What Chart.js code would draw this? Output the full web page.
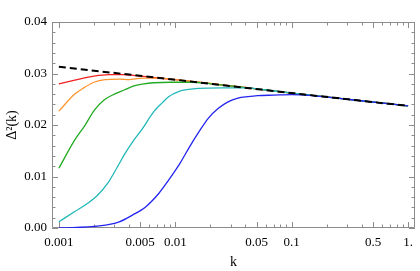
<!DOCTYPE html>
<html>
<head>
<meta charset="utf-8">
<script src="https://cdn.jsdelivr.net/npm/chart.js@4.4.1/dist/chart.umd.min.js"></script>
<style>
  html, body { margin: 0; padding: 0; background: #fff; }
  canvas { display: block; }
</style>
</head>
<body>
<canvas id="chart" width="420" height="271"></canvas>
<script>
// tick labels
const xTickValues = [0.001, 0.005, 0.01, 0.05, 0.1, 0.5, 1]
const xTickLabels = ['0.001', '0.005', '0.01', '0.05', '0.1', '0.5', '1.']
const yTickValues = [0, 0.01, 0.02, 0.03, 0.04]

// series
const kLinear = [0.001, 0.01, 0.1, 1]
const yLinear = [0.0313, 0.0288, 0.0262, 0.0237]

const kRed = [0.001, 0.00137, 0.002, 0.0027, 0.0035, 0.0045, 0.006, 0.01, 0.03, 0.1, 1]
const yRed = [0.0280, 0.0287, 0.0295, 0.0298, 0.0298, 0.0296, 0.0293, 0.0288, 0.0276, 0.0262, 0.0237]

const kOrange = [0.001, 0.00137, 0.00166, 0.002, 0.0025, 0.0033, 0.004, 0.0052, 0.007, 0.01, 0.03, 0.1, 1]
const yOrange = [0.0227, 0.0260, 0.0273, 0.0283, 0.0288, 0.0289, 0.0288, 0.0291, 0.0291, 0.0288, 0.0276, 0.0262, 0.0237]

const kGreen = [0.001, 0.00137, 0.00166, 0.00202, 0.00246, 0.003, 0.00364, 0.00442, 0.00537, 0.00654, 0.009, 0.014, 0.02, 0.03, 0.1, 1]
const yGreen = [0.0116, 0.0171, 0.0198, 0.0229, 0.0249, 0.0260, 0.0268, 0.0276, 0.0280, 0.0282, 0.0283, 0.0283, 0.0280, 0.0276, 0.0262, 0.0237]

const kCyan = [0.001, 0.00137, 0.00177, 0.00216, 0.00263, 0.00319, 0.00364, 0.00442, 0.00519, 0.00654, 0.0078, 0.00877, 0.01067, 0.013, 0.0158, 0.025, 0.04, 0.06, 0.1, 1]
const yCyan = [0.0012, 0.0032, 0.0048, 0.0064, 0.0087, 0.0119, 0.0142, 0.0171, 0.0192, 0.0226, 0.0244, 0.0255, 0.0265, 0.0269, 0.0271, 0.0272, 0.0272, 0.0268, 0.0262, 0.0237]

const kBlue = [0.001, 0.00223, 0.0033, 0.00428, 0.00556, 0.00721, 0.00877, 0.011, 0.0133, 0.016, 0.0192, 0.0233, 0.0284, 0.0345, 0.042, 0.051, 0.07, 0.1, 0.15, 0.3, 1]
const yBlue = [0.0000, 0.0004, 0.0012, 0.0025, 0.0041, 0.0067, 0.0093, 0.0126, 0.0158, 0.0187, 0.0213, 0.0232, 0.0245, 0.0252, 0.0255, 0.0257, 0.0258, 0.0259, 0.0257, 0.0250, 0.0237]

const pts = (ks, ys) => ks.map((k, i) => ({x: k, y: ys[i]}))

const curve = (data, color) => ({
  data, borderColor: color, borderWidth: 1.3, pointRadius: 0,
  cubicInterpolationMode: 'monotone', fill: false
})

// frame + inward ticks, Mathematica style
const frameTicks = {
  id: 'frameTicks',
  beforeDatasetsDraw(chart) {
    const {ctx, chartArea: a, scales: {x, y}} = chart
    ctx.save()
    ctx.strokeStyle = '#8c8c8c'
    ctx.lineWidth = 1
    ctx.beginPath()
    ctx.rect(a.left + 0.5, a.top + 0.5, a.right - a.left - 1, a.bottom - a.top - 1)
    ctx.stroke()

    const tick = (px, len, horiz) => {
      px = Math.round(px) + 0.5
      if (horiz) {
        ctx.moveTo(px, a.bottom); ctx.lineTo(px, a.bottom - len)
        ctx.moveTo(px, a.top); ctx.lineTo(px, a.top + len)
      } else {
        ctx.moveTo(a.left, px); ctx.lineTo(a.left + len, px)
        ctx.moveTo(a.right, px); ctx.lineTo(a.right - len, px)
      }
    }
    ctx.beginPath()
    xTickValues.forEach(v => tick(x.getPixelForValue(v), 6, true))
    for (let d = 0.001; d < 2; d *= 10) {
      [2, 3, 4, 6, 7, 8, 9].forEach(m => {
        const v = m * d
        if (v <= x.max) tick(x.getPixelForValue(v), 3.5, true)
      })
    }
    yTickValues.forEach(v => tick(y.getPixelForValue(v), 6, false))
    for (let i = 0; i < 20; i++) {
      if (i % 5) tick(y.getPixelForValue(i * 0.002), 3.5, false)
    }
    ctx.stroke()
    ctx.restore()
  }
}

const tickFont = {family: "'Liberation Serif', 'DejaVu Serif', serif", size: 13}

new Chart(document.getElementById('chart'), {
  type: 'line',
  data: {
    datasets: [
      {data: pts(kLinear, yLinear), borderColor: '#000', borderWidth: 2, borderDash: [7, 4], pointRadius: 0, fill: false},
      curve(pts(kBlue, yBlue), '#2424f0'),
      curve(pts(kCyan, yCyan), '#22b8b8'),
      curve(pts(kGreen, yGreen), '#22aa22'),
      curve(pts(kOrange, yOrange), '#ff9530'),
      curve(pts(kRed, yRed), '#f22020'),
    ]
  },
  options: {
    responsive: false,
    animation: false,
    devicePixelRatio: 1,
    layout: {padding: {top: 22, right: 1, left: 0, bottom: 0}},
    plugins: {legend: false, tooltip: {enabled: false}},
    scales: {
      x: {
        type: 'logarithmic',
        min: 0.000873,
        max: 1.146,
        grid: {display: false, drawTicks: false},
        border: {display: false},
        afterBuildTicks: s => { s.ticks = xTickValues.map(v => ({value: v})) },
        afterFit: s => { s.height = 43 },
        ticks: {
          autoSkip: false, maxRotation: 0, padding: 7, color: '#000', font: tickFont,
          callback: (v, i) => xTickLabels[i]
        },
        title: {display: true, text: 'k', color: '#000', padding: 0,
          font: {family: "'Liberation Serif', serif", size: 14}}
      },
      y: {
        min: 0,
        max: 0.04,
        grid: {display: false, drawTicks: false},
        border: {display: false},
        afterBuildTicks: s => { s.ticks = yTickValues.map(v => ({value: v})) },
        afterFit: s => { s.width = 52 },
        ticks: {padding: 5, color: '#000', font: tickFont, callback: v => v.toFixed(2)},
        title: {display: true, text: 'Δ²(k)', color: '#000', padding: {top: 4, bottom: 0},
          font: {family: "'Liberation Serif', serif", size: 14}}
      }
    }
  },
  plugins: [frameTicks]
})
</script>
</body>
</html>
